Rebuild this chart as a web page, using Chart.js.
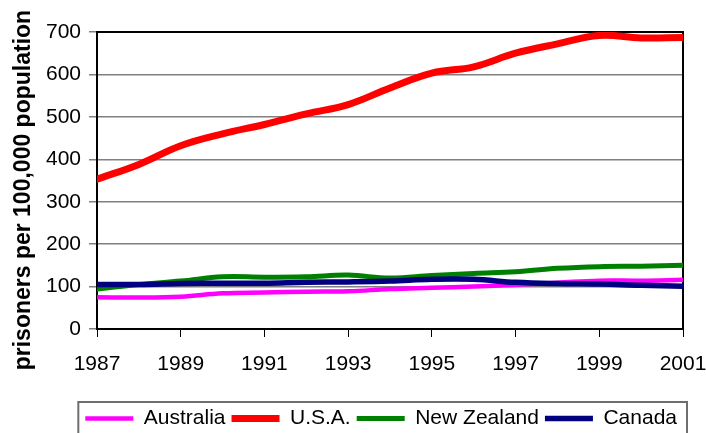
<!DOCTYPE html>
<html>
<head>
<meta charset="utf-8">
<script src="https://cdn.jsdelivr.net/npm/chart.js@4.4.1/dist/chart.umd.min.js"></script>
<style>
    html, body { margin: 0; padding: 0; overflow: hidden; background: #fff; }
    #wrap { width: 706px; height: 442px; }
</style>
</head>
<body>
<div id="wrap"><canvas id="lineChart"></canvas></div>
<script>
// Años del eje X (un punto por año)
const years = [1987, 1988, 1989, 1990, 1991, 1992, 1993, 1994, 1995, 1996, 1997, 1998, 1999, 2000, 2001];

// Presos por cada 100.000 habitantes
const australia  = [75, 74, 76, 84, 86, 88, 89, 94, 97, 100, 104, 109, 114, 114, 116];
const usa        = [353, 388, 432, 460, 482, 507, 529, 568, 603, 618, 650, 672, 692, 686, 687];
const newZealand = [94, 105, 113, 123, 122, 123, 127, 120, 126, 131, 135, 143, 147, 148, 150];
const canada     = [105, 105, 107, 108, 108, 110, 111, 113, 117, 117, 110, 107, 106, 103, 101];

const FONT = '"Liberation Sans", Arial, sans-serif';

// Convierte una serie en puntos {x, y} para el eje lineal
const toPoints = (values) => values.map((v, i) => ({ x: years[i], y: v }));

// Marco negro alrededor del área del gráfico
const plotBorder = {
    id: 'plotBorder',
    beforeDatasetsDraw(chart) {
        const { ctx, chartArea: a } = chart;
        ctx.save();
        ctx.strokeStyle = '#000';
        ctx.lineWidth = 2;
        ctx.strokeRect(a.left, a.top, a.right - a.left, a.bottom - a.top);
        ctx.restore();
    }
};

// Recuadro de la leyenda (se corta por abajo como en el original)
const legendBox = {
    id: 'legendBox',
    afterDraw(chart) {
        const legend = chart.legend;
        const boxes = legend.legendHitBoxes;
        if (!boxes || !boxes.length) return;
        const first = boxes[0];
        const last = boxes[boxes.length - 1];
        const left = first.left - 7;
        const right = last.left + last.width + 10;
        const { ctx } = chart;
        ctx.save();
        ctx.strokeStyle = '#6e6e6e';
        ctx.lineWidth = 2;
        ctx.strokeRect(left, legend.top, right - left, legend.bottom - legend.top + 20);
        ctx.restore();
    }
};

const series = (label, values, color, width, order) => ({
    label: label,
    data: toPoints(values),
    borderColor: color,
    backgroundColor: color,
    borderWidth: width,
    borderCapStyle: 'round',
    borderJoinStyle: 'round',
    pointRadius: 0,
    tension: 0.4,
    order: order
});

new Chart(document.getElementById('lineChart'), {
    type: 'line',
    data: {
        datasets: [
            series('Australia', australia, '#ff00ff', 4.5, 3),
            series('U.S.A.', usa, '#ff0000', 7, 2),
            series('New Zealand', newZealand, '#008000', 5, 1),
            series('Canada', canada, '#000080', 5.5, 0)
        ]
    },
    options: {
        responsive: true,
        maintainAspectRatio: false,
        animation: false,
        layout: { padding: { top: 32, right: 23, left: 0, bottom: 3 } },
        plugins: {
            tooltip: { enabled: false },
            legend: {
                position: 'bottom',
                align: 'end',
                labels: {
                    usePointStyle: true,
                    pointStyle: 'line',
                    pointStyleWidth: 48,
                    boxWidth: 48,
                    padding: 6,
                    color: '#000',
                    font: { family: FONT, size: 21 },
                    sort: (a, b) => a.datasetIndex - b.datasetIndex
                }
            }
        },
        scales: {
            x: {
                type: 'linear',
                min: 1987,
                max: 2001,
                afterFit: (scale) => {
                    // alto fijo del eje y sin margen extra a los lados
                    scale.height = 73;
                    scale.paddingLeft = 0;
                    scale.paddingRight = 0;
                },
                ticks: {
                    stepSize: 2,
                    padding: 15,
                    color: '#000',
                    font: { family: FONT, size: 21 },
                    callback: (v) => String(v)
                },
                grid: { drawOnChartArea: false, drawTicks: true, tickLength: 8, color: '#000' },
                border: { color: '#000', width: 2 }
            },
            y: {
                min: 0,
                max: 700,
                afterFit: (scale) => { scale.width = 97; },
                ticks: {
                    stepSize: 100,
                    padding: 8,
                    color: '#000',
                    font: { family: FONT, size: 21 }
                },
                grid: { color: '#808080', lineWidth: 1.5, tickLength: 8 },
                border: { color: '#000', width: 2 },
                title: {
                    display: true,
                    // los espacios finales bajan un poco el título, como en el original
                    text: 'prisoners per 100,000 population\u00a0\u00a0\u00a0',
                    color: '#000',
                    padding: { top: 10, bottom: 0 },
                    font: { family: FONT, size: 23, weight: 'bold' }
                }
            }
        }
    },
    plugins: [plotBorder, legendBox]
});
</script>
</body>
</html>
